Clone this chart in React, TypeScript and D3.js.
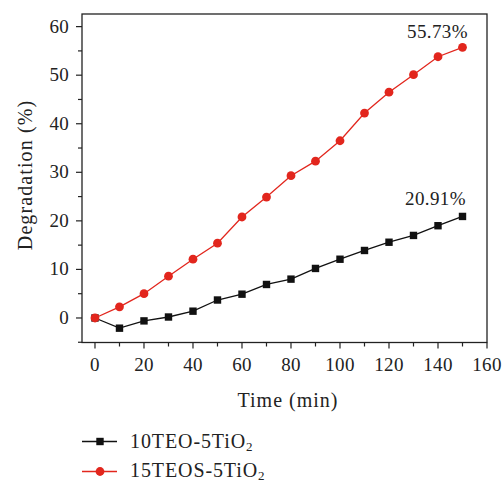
import React from "react";
import * as d3 from "d3";

const times = [0, 10, 20, 30, 40, 50, 60, 70, 80, 90, 100, 110, 120, 130, 140, 150];
const seriesTEO = [0, -2.1, -0.6, 0.2, 1.4, 3.7, 4.9, 6.9, 8.0, 10.2, 12.1, 13.9, 15.6, 17.0, 19.0, 20.91];
const seriesTEOS = [0, 2.3, 5.0, 8.6, 12.1, 15.4, 20.8, 24.9, 29.3, 32.3, 36.5, 42.2, 46.5, 50.1, 53.8, 55.73];
const xTicks = [0, 20, 40, 60, 80, 100, 120, 140, 160];
const yTicks = [0, 10, 20, 30, 40, 50, 60];

const W = 503, H = 481;
const L = 82, R = 487, T = 14, B = 342.5;
const RED = "#e2261d";
const BLK = "#111";
const FONT = "'Liberation Serif', 'DejaVu Serif', serif";

export default function App() {
  const x = d3.scaleLinear().domain([-5.3, 160]).range([L, R]);
  const y = d3.scaleLinear().domain([-5.05, 62.6]).range([B, T]);
  const line = d3.line<number>().x((_, i) => x(times[i])).y((d) => y(d));
  const xMinor = d3.range(0, 161, 10);
  const yMinor = d3.range(-5, 61, 5);
  return (
    <svg width={W} height={H} style={{ position: "absolute", left: 0, top: 0 }} fontFamily={FONT}>
      <rect x={L} y={T} width={R - L} height={B - T} fill="none" stroke="#222" strokeWidth={1.3} />
      {xMinor.map((t) => (
        <line key={"xm" + t} x1={x(t)} x2={x(t)} y1={B} y2={B + (t % 20 === 0 ? 6 : 4)} stroke="#222" strokeWidth={1.2} />
      ))}
      {xTicks.map((t) => (
        <text key={"xt" + t} x={x(t)} y={371} textAnchor="middle" fontSize={19} letterSpacing={0.3} fill="#222">{t}</text>
      ))}
      {yMinor.map((t) => (
        <line key={"ym" + t} x1={L} x2={L - (t % 10 === 0 ? 6 : 4)} y1={y(t)} y2={y(t)} stroke="#222" strokeWidth={1.2} />
      ))}
      {yTicks.map((t) => (
        <text key={"yt" + t} x={69} y={y(t) + 6} textAnchor="end" fontSize={19} letterSpacing={0.3} fill="#222">{t}</text>
      ))}
      <text transform={`translate(32,${175}) rotate(-90)`} textAnchor="middle" fontSize={20} letterSpacing={1.1} fill="#222">Degradation (%)</text>
      <text x={288} y={406.5} textAnchor="middle" fontSize={20} letterSpacing={1} fill="#222">Time (min)</text>

      <path d={line(seriesTEO) || ""} fill="none" stroke={BLK} strokeWidth={1.3} />
      {seriesTEO.map((v, i) => (
        <rect key={"s" + i} x={x(times[i]) - 3.7} y={y(v) - 3.7} width={7.4} height={7.4} fill={BLK} />
      ))}
      <path d={line(seriesTEOS) || ""} fill="none" stroke={RED} strokeWidth={1.3} />
      {seriesTEOS.map((v, i) => (
        <circle key={"c" + i} cx={x(times[i])} cy={y(v)} r={4.4} fill={RED} />
      ))}
      <text x={468} y={38} textAnchor="end" fontSize={19} letterSpacing={0.4} fill="#222">55.73%</text>
      <text x={466} y={205} textAnchor="end" fontSize={19} letterSpacing={0.4} fill="#222">20.91%</text>

      <g>
        <line x1={82} x2={117} y1={441.5} y2={441.5} stroke={BLK} strokeWidth={1.3} />
        <rect x={96.3} y={437.8} width={7.4} height={7.4} fill={BLK} />
        <text x={130} y={447.5} fontSize={20} letterSpacing={0.9} fill="#222">10TEO-5TiO<tspan fontSize={13} dy={3.5}>2</tspan></text>
        <line x1={82} x2={117} y1={471.5} y2={471.5} stroke={RED} strokeWidth={1.3} />
        <circle cx={100} cy={471.5} r={4.4} fill={RED} />
        <text x={130} y={476.5} fontSize={20} letterSpacing={0.9} fill="#222">15TEOS-5TiO<tspan fontSize={13} dy={3}>2</tspan></text>
      </g>
    </svg>
  );
}
